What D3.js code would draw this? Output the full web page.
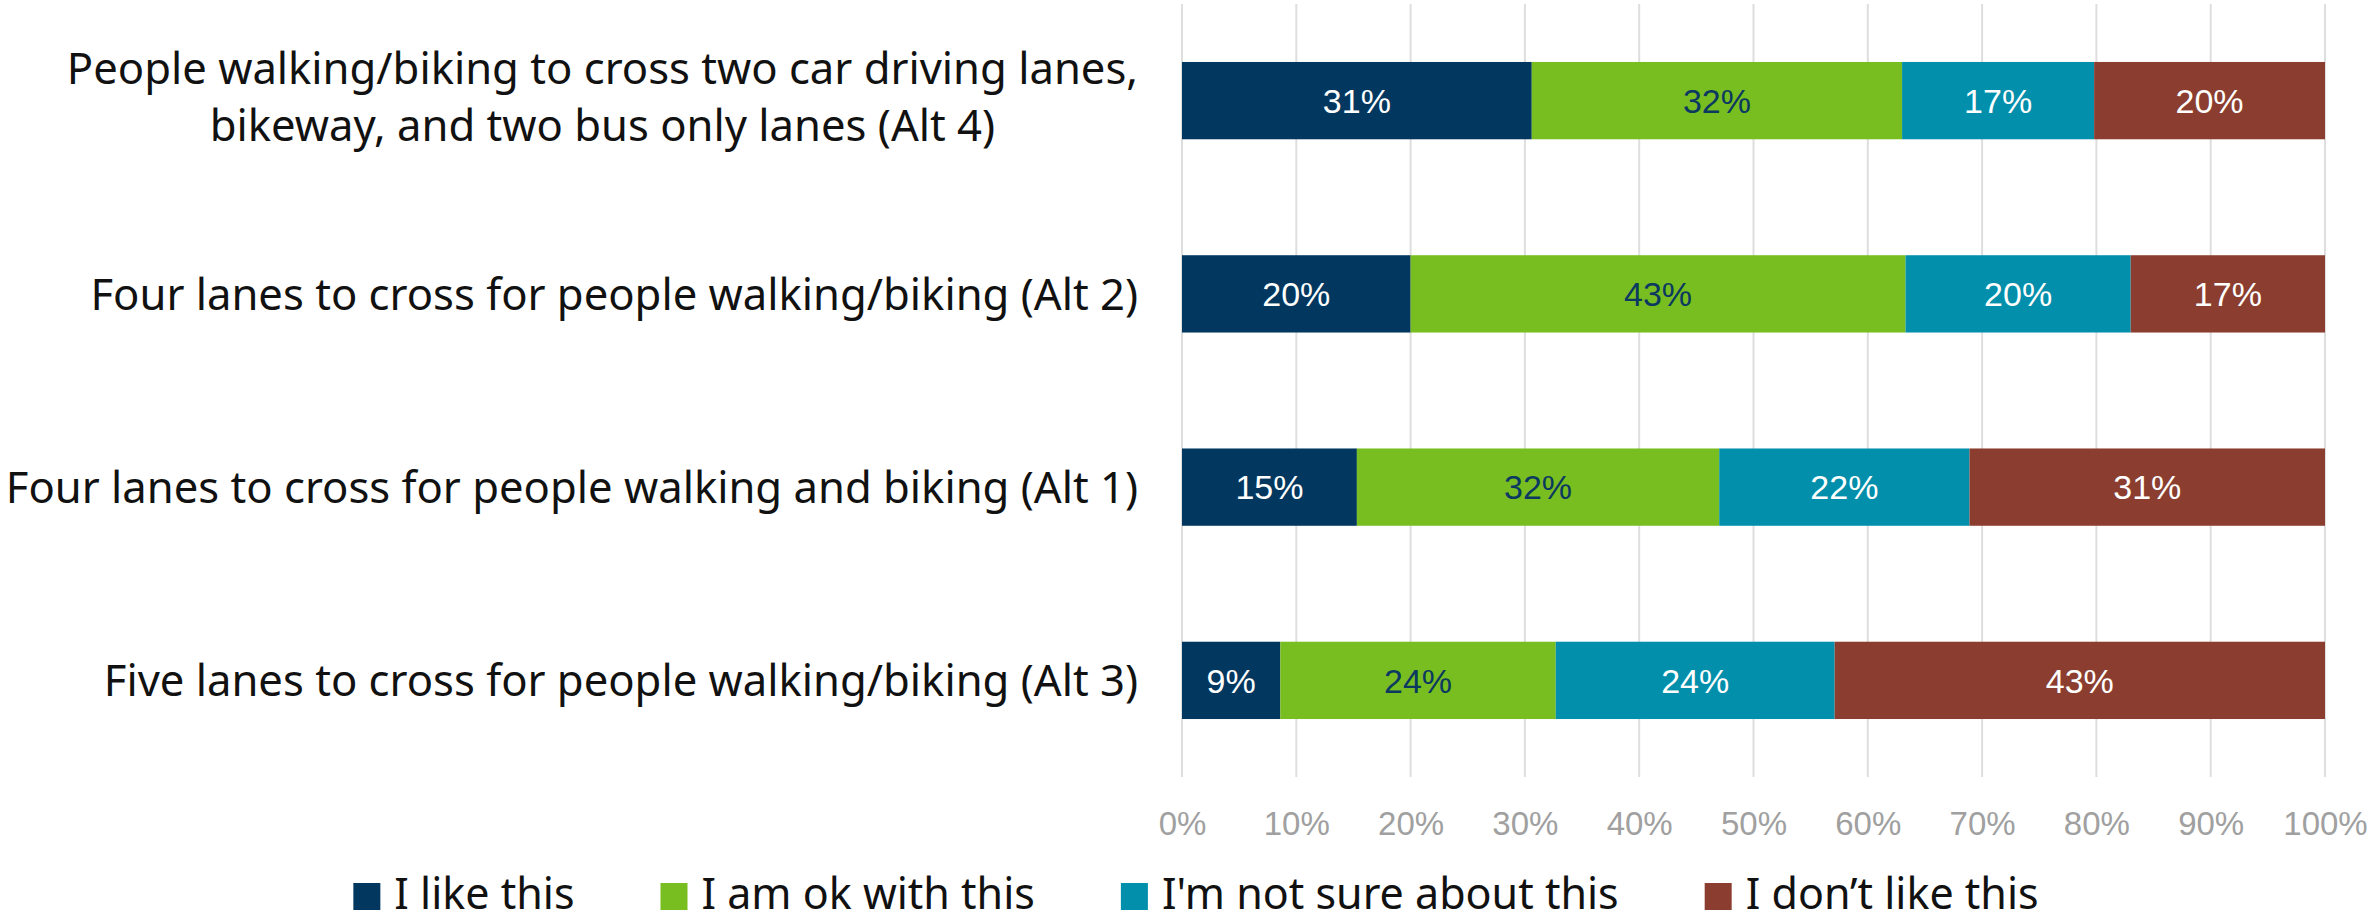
<!DOCTYPE html>
<meta charset="utf-8">
<style>
body { margin: 0; background: #fff; }
.cat { font-family: "Noto Sans", sans-serif; font-size: 43.6px; fill: #111; }
.legend text { font-family: "Noto Sans", sans-serif; font-size: 43px; fill: #111; }
.tick text { font-family: "Liberation Sans", Arial, sans-serif; font-size: 33px; fill: #a0a0a0; }
.val { font-family: "Liberation Sans", Arial, sans-serif; font-size: 34px; }
.grid line { stroke: #dedede; stroke-width: 2px; }
</style>
<svg width="2374" height="922"></svg>
<script src="https://d3js.org/d3.v7.min.js"></script>
<script>

// answer categories (stack order, left to right)
var answers = ["I like this", "I am ok with this", "I'm not sure about this", "I don\u2019t like this"];
var colors  = ["#02375f", "#78be20", "#028fab", "#8b3e2f"];
var labelColors = ["#fff", "#0b3960", "#fff", "#fff"];

// options, top to bottom
var options = [
  ["People walking/biking to cross two car driving lanes,", "bikeway, and two bus only lanes (Alt 4)"],
  ["Four lanes to cross for people walking/biking (Alt 2)"],
  ["Four lanes to cross for people walking and biking (Alt 1)"],
  ["Five lanes to cross for people walking/biking (Alt 3)"]
];

// shares in percent, one array per answer, same order as options
var likeIt   = [30.6, 20.0, 15.3,  8.6];
var okWithIt = [32.4, 43.3, 31.7, 24.1];
var notSure  = [16.8, 19.7, 21.9, 24.4];
var dislike  = [20.2, 17.0, 31.1, 42.9];

var ticks = [0, 10, 20, 30, 40, 50, 60, 70, 80, 90, 100];

var svg = d3.select("svg");

var x = d3.scaleLinear().domain([0, 100]).range([1182, 2325]);
var y = d3.scaleBand()
    .domain(d3.range(options.length))
    .range([4, 777])
    .paddingInner(0.6)
    .paddingOuter(0.3);

// gridlines
svg.append("g")
    .attr("class", "grid")
  .selectAll("line")
  .data(ticks)
  .enter().append("line")
    .attr("x1", function(d) { return x(d); })
    .attr("x2", function(d) { return x(d); })
    .attr("y1", 4)
    .attr("y2", 777);

// x axis labels
var xAxis = d3.axisBottom(x)
    .tickValues(ticks)
    .tickSize(0)
    .tickPadding(0)
    .tickFormat(function(d) { return d + "%"; });

svg.append("g")
    .attr("transform", "translate(0,812)")
    .call(xAxis)
    .call(function(g) { g.select(".domain").remove(); })
    .selectAll("text")
    .attr("dy", "0.71em");

// stacked data
var series = [likeIt, okWithIt, notSure, dislike];
var rows = options.map(function(o, i) {
  var r = { index: i };
  answers.forEach(function(a, j) { r[a] = series[j][i]; });
  return r;
});
var stack = d3.stack().keys(answers)(rows);

var layer = svg.append("g").selectAll("g")
  .data(stack)
  .enter().append("g")
    .attr("fill", function(d, i) { return colors[i]; });

layer.selectAll("rect")
  .data(function(d) { return d; })
  .enter().append("rect")
    .attr("x", function(d) { return x(d[0]); })
    .attr("y", function(d) { return y(d.data.index); })
    .attr("width", function(d) { return x(d[1]) - x(d[0]); })
    .attr("height", y.bandwidth());

layer.each(function(s, i) {
  d3.select(this).selectAll("text")
    .data(s)
    .enter().append("text")
      .attr("class", "val")
      .attr("fill", labelColors[i])
      .attr("text-anchor", "middle")
      .attr("x", function(d) { return (x(d[0]) + x(d[1])) / 2; })
      .attr("y", function(d) { return y(d.data.index) + y.bandwidth() / 2; })
      .attr("dy", "0.36em")
      .text(function(d) { return Math.round(d[1] - d[0]) + "%"; });
});

// category labels, wrapped lines centred inside a right-aligned block
var labelRight = 1138, lineH = 57;
options.forEach(function(lines, i) {
  var g = svg.append("g");
  var cy = y(i) + y.bandwidth() / 2 - (lines.length > 1 ? 4 : 0);
  var texts = lines.map(function(line, k) {
    return g.append("text")
      .attr("class", "cat")
      .attr("text-anchor", "middle")
      .attr("y", cy + (k - (lines.length - 1) / 2) * lineH)
      .attr("dy", "0.36em")
      .text(line);
  });
  var w = d3.max(texts, function(t) { return t.node().getComputedTextLength(); });
  texts.forEach(function(t) { t.attr("x", labelRight - w / 2); });
});

// legend
var legend = svg.append("g").attr("class", "legend");
var items = legend.selectAll("g")
  .data(answers)
  .enter().append("g");

items.append("rect")
    .attr("width", 27)
    .attr("height", 27)
    .attr("y", 883)
    .attr("fill", function(d, i) { return colors[i]; });

items.append("text")
    .attr("x", 41)
    .attr("y", 909)
    .text(function(d) { return d; });

var pos = 0, offsets = [];
items.each(function() {
  offsets.push(pos);
  pos += 41 + d3.select(this).select("text").node().getComputedTextLength() + 86;
});
var legendW = pos - 86;
var start = 1196 - legendW / 2;
items.attr("transform", function(d, i) { return "translate(" + (start + offsets[i]) + ",0)"; });

</script>
